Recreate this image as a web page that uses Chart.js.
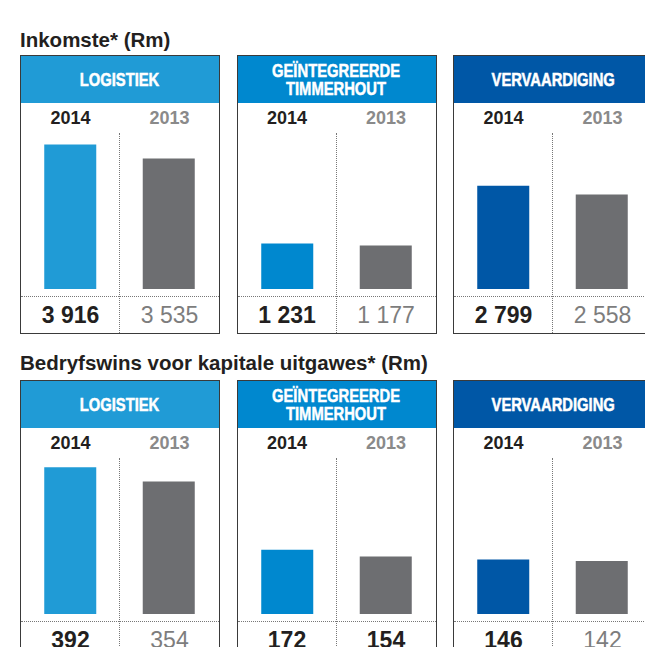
<!DOCTYPE html>
<html>
<head>
<meta charset="utf-8">
<script src="https://cdn.jsdelivr.net/npm/chart.js@4.4.1/dist/chart.umd.min.js"></script>
<style>
  html, body { margin: 0; padding: 0; background: #fff; }
  body { width: 645px; height: 647px; overflow: hidden; position: relative; font-family: "Liberation Sans", Arial, sans-serif; }
  .title { position: absolute; left: 20px; font-weight: bold; font-size: 20.5px; color: #231f20; white-space: nowrap; line-height: 24px; }
  .panel { position: absolute; width: 200px; height: 279px; box-sizing: border-box; border: 1.5px solid #3a3a3a; background: #fff; }
  .head { height: 47px; display: flex; align-items: center; justify-content: center; text-align: center;
          color: #fff; font-weight: bold; font-size: 18px; line-height: 18px; }
  .head span { display: inline-block; transform: scaleX(0.82); transform-origin: center; white-space: pre; -webkit-text-stroke: 0.5px #fff; }
  .years, .vals { display: flex; }
  .years { height: 30px; align-items: center; font-weight: bold; font-size: 18px; }
  .years div, .vals div { flex: 1; text-align: center; }
  .vals { height: 37px; align-items: center; font-size: 23px; border-top: 1px dotted #777; box-sizing: border-box; }
  .cur { color: #231f20; font-weight: bold; }
  .prev { color: #8a8a8a; }
  .vals .prev { color: #7d7d7d; font-weight: normal; }
  .divider { position: absolute; left: 98px; top: 77px; bottom: 0; border-left: 1px dotted #777; }
  canvas { display: block; }
</style>
</head>
<body>
<script>
// data
const years = ['2014', '2013'];
const segments = ['LOGISTIEK', 'GEÏNTEGREERDE\nTIMMERHOUT', 'VERVAARDIGING'];
const titles = ['Inkomste* (Rm)', 'Bedryfswins voor kapitale uitgawes* (Rm)'];
const revenue2014 = [3916, 1231, 2799];
const revenue2013 = [3535, 1177, 2558];
const ebitda2014 = [392, 172, 146];
const ebitda2013 = [354, 154, 142];

const segColors = ['#209bd6', '#0088cf', '#0057a6'];
const greyBar = '#6d6e71';

const fmt = v => String(v).replace(/\B(?=(\d{3})+(?!\d))/g, ' ');

const rows = [
  { title: titles[0], top: 28, panelTop: 55, cur: revenue2014, prev: revenue2013, yMax: 4228, darkPrev: [] },
  { title: titles[1], top: 351, panelTop: 380, cur: ebitda2014, prev: ebitda2013, yMax: 417, darkPrev: [1] }
];
const panelLeft = [20, 236.5, 453];

rows.forEach(row => {
  const t = document.createElement('div');
  t.className = 'title';
  t.style.top = row.top + 'px';
  t.textContent = row.title;
  document.body.appendChild(t);

  segments.forEach((seg, i) => {
    const p = document.createElement('div');
    p.className = 'panel';
    p.style.left = panelLeft[i] + 'px';
    p.style.top = row.panelTop + 'px';

    const h = document.createElement('div');
    h.className = 'head';
    h.style.background = segColors[i];
    const hs = document.createElement('span');
    hs.textContent = seg;
    h.appendChild(hs);
    p.appendChild(h);

    const y = document.createElement('div');
    y.className = 'years';
    y.innerHTML = '<div class="cur">' + years[0] + '</div><div class="prev">' + years[1] + '</div>';
    p.appendChild(y);

    const c = document.createElement('canvas');
    c.width = 197;
    c.height = 163;
    p.appendChild(c);

    const v = document.createElement('div');
    v.className = 'vals';
    const prevCls = row.darkPrev.includes(i) ? 'cur' : 'prev';
    v.innerHTML = '<div class="cur">' + fmt(row.cur[i]) + '</div><div class="' + prevCls + '">' + fmt(row.prev[i]) + '</div>';
    p.appendChild(v);

    const d = document.createElement('div');
    d.className = 'divider';
    p.appendChild(d);

    document.body.appendChild(p);

    new Chart(c.getContext('2d'), {
      type: 'bar',
      data: {
        labels: years,
        datasets: [{
          data: [row.cur[i], row.prev[i]],
          backgroundColor: [segColors[i], greyBar],
          borderWidth: 0,
          categoryPercentage: 1,
          barPercentage: 0.528
        }]
      },
      options: {
        responsive: false,
        animation: false,
        layout: { padding: { top: 0, bottom: 7, left: 0, right: 0 } },
        plugins: { legend: { display: false }, tooltip: { enabled: false } },
        scales: {
          x: { display: false },
          y: { display: false, min: 0, max: row.yMax }
        }
      }
    });
  });
});
</script>
</body>
</html>
